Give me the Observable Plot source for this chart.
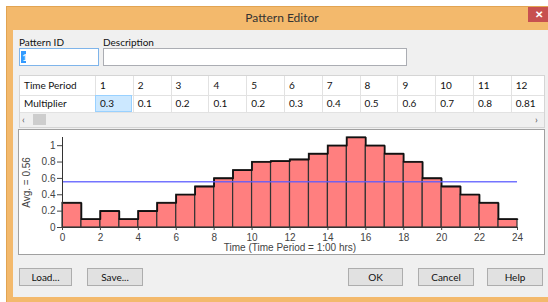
<!DOCTYPE html>
<html>
<head>
<meta charset="utf-8">
<script src="https://cdn.jsdelivr.net/npm/d3@7"></script>
<script src="https://cdn.jsdelivr.net/npm/@observablehq/plot@0.6"></script>
<style>
  html, body { margin:0; padding:0; background:#fff; }
  body { width:548px; height:302px; overflow:hidden; position:relative; font-family:"Segoe UI", Lato, "Open Sans", sans-serif; font-size:10px; color:#111; }
  .abs { position:absolute; box-sizing:border-box; }
  #win { left:6px; top:6px; width:560px; height:310px; background:#f3b96c; border:1px solid #e2a452; }
  #title { left:6px; top:6px; width:552px; height:24px; line-height:24px; text-align:center; font-size:12px; color:#333; }
  #close { left:528px; top:7px; width:22px; height:15px; background:#c75050; color:#fff; font-size:10px; line-height:15px; text-align:center; font-weight:bold; }
  #client { left:13px; top:30px; width:540px; height:267px; background:#f0f0f0; }
  .lbl { line-height:12px; white-space:nowrap; }
  .input { background:#fff; border:1px solid #abadb3; }
  .btn { height:18px; top:268px; background:#e1e1e1; border:1px solid #adadad; text-align:center; line-height:16px; font-size:10px; }
  .cell { line-height:20px; padding-left:5px; white-space:nowrap; }
  .vline { width:1px; background:#e2e2e2; }
</style>
</head>
<body>
<div id="win" class="abs"></div>
<div id="title" class="abs">Pattern Editor</div>
<div id="close" class="abs">✕</div>
<div id="client" class="abs"></div>
<div id="ui"></div>
<div id="panel" class="abs" style="left:18px;top:129px;width:527px;height:126px;background:#fff;border:1px solid #a0a0a0;"></div>
<div id="chart" class="abs" style="left:19px;top:130px;"></div>
<script>
// ---- data ----
const periods = [1,2,3,4,5,6,7,8,9,10,11,12,13,14,15,16,17,18,19,20,21,22,23,24];
const multipliers = [0.3,0.1,0.2,0.1,0.2,0.3,0.4,0.5,0.6,0.7,0.8,0.81,0.83,0.9,1.0,1.1,1.0,0.9,0.8,0.6,0.5,0.4,0.3,0.1];
const yTicks = [0,0.2,0.4,0.6,0.8,1];
const xTicks = [0,2,4,6,8,10,12,14,16,18,20,22,24];
const visibleColumns = 12;
const patternId = "1";

// ---- dialog widgets ----
const ui = document.getElementById("ui");
function add(cls, style, text) {
  const d = document.createElement("div");
  d.className = "abs " + cls;
  d.setAttribute("style", style);
  if (text != null) d.textContent = text;
  ui.appendChild(d);
  return d;
}
add("lbl", "left:19px;top:36px;", "Pattern ID");
add("lbl", "left:103px;top:36px;", "Description");
add("input", "left:19px;top:48px;width:80px;height:18px;border-color:#7eb4ea;");
add("", "left:21px;top:51px;width:5px;height:12px;background:#3399ff;color:#fff;line-height:12px;font-size:10px;padding-left:1px;", patternId);
add("input", "left:103px;top:48px;width:304px;height:18px;");

// table
add("", "left:19px;top:75px;width:526px;height:53px;background:#fff;border:1px solid #d5d5d5;");
const colX = [95];
for (let i = 1; i <= visibleColumns; i++) colX.push(95 + i * 37.8);
add("", "left:20px;top:95px;width:524px;height:1px;background:#e2e2e2;");
add("", "left:20px;top:112px;width:524px;height:1px;background:#e2e2e2;");
add("", "left:20px;top:113px;width:524px;height:14px;background:#f0f0f0;");
add("cell", "left:19px;top:75px;", "Time Period");
add("cell", "left:19px;top:94px;line-height:18px;", "Multiplier");
for (let i = 0; i < visibleColumns; i++) {
  const x = colX[i];
  add("vline", `left:${x}px;top:76px;height:36px;`);
  if (i === 0) add("", `left:${x}px;top:95px;width:37px;height:17px;background:#cce8ff;border:1px solid #99d1ff;`);
  add("cell", `left:${x}px;top:75px;`, String(periods[i]));
  add("cell", `left:${x}px;top:94px;line-height:18px;`, String(multipliers[i]));
}
add("", "left:22px;top:113px;width:9px;height:13px;line-height:13px;font-size:10px;color:#555;", "‹");
add("", "left:33px;top:114px;width:13px;height:11px;background:#cdcdcd;");
add("", "left:535px;top:113px;width:9px;height:13px;line-height:13px;font-size:10px;color:#555;", "›");

// buttons
add("btn", "left:19px;width:53px;", "Load...");
add("btn", "left:87px;width:56px;", "Save...");
add("btn", "left:348px;width:55px;", "OK");
add("btn", "left:418px;width:56px;", "Cancel");
add("btn", "left:487px;width:56px;", "Help");

// ---- chart ----
const avg = d3.mean(multipliers);
const bars = periods.map((p, i) => ({t0: p - 1, t1: p, v: multipliers[i]}));
const profile = bars.map(d => ({t: d.t0, v: d.v})).concat([{t: 24, v: multipliers[multipliers.length - 1]}]);

const chart = Plot.plot({
  width: 525,
  height: 124,
  marginLeft: 43,
  marginRight: 27,
  marginTop: 7,
  marginBottom: 27,
  style: {fontFamily: "'Liberation Sans', Arial, sans-serif", fontSize: "10px", color: "#444", background: "#fff", overflow: "visible"},
  x: {domain: [0, 24]},
  y: {domain: [0, 1.1]},
  marks: [
    Plot.rectY(bars, {x1: "t0", x2: "t1", y: "v", fill: "#ff7f7f", stroke: "#333", strokeWidth: 1.2}),
    Plot.line(profile, {x: "t", y: "v", curve: "step-after", stroke: "#111", strokeWidth: 1.6}),
    Plot.ruleY([avg], {x1: 0, x2: 24, stroke: "#5c5cff", strokeOpacity: 0.85, strokeWidth: 1.6}),
    Plot.ruleX([0], {stroke: "#333"}),
    Plot.ruleY([0], {x1: 0, x2: 24, stroke: "#333"}),
    Plot.axisY({ticks: yTicks, tickFormat: d => String(+d.toFixed(1)), tickSize: 5, tickPadding: 2, label: "Avg. = " + avg.toFixed(2), labelAnchor: "center", labelArrow: "none", labelOffset: 40}),
    Plot.axisX({ticks: xTicks, tickSize: 3, tickPadding: 3, label: "Time (Time Period = 1:00 hrs)", labelAnchor: "center", labelArrow: "none", labelOffset: 23})
  ]
});
document.getElementById("chart").appendChild(chart);
</script>
</body>
</html>
